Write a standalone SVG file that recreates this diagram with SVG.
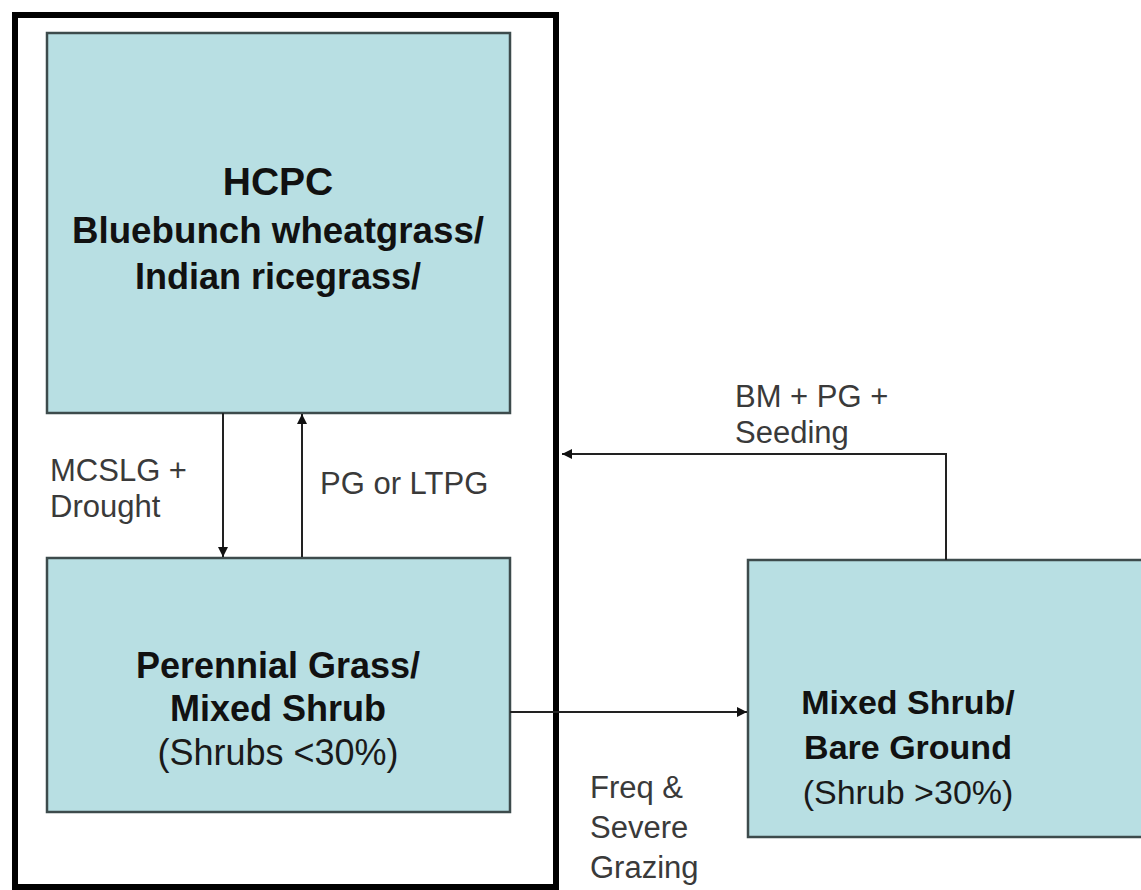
<svg xmlns="http://www.w3.org/2000/svg" width="1141" height="890" viewBox="0 0 1141 890">
<defs>
<style>
.box{fill:#b8dfe3;stroke:#3d4b4c;stroke-width:2.5}
.title{font-family:"Liberation Sans",Arial,sans-serif;font-weight:bold;font-size:36px;fill:#111;text-anchor:middle}
.sub{font-family:"Liberation Sans",Arial,sans-serif;font-size:36px;fill:#1a1a1a;text-anchor:middle}
.lbl{font-family:"Liberation Sans",Arial,sans-serif;font-size:31px;fill:#3a3a3a}
.ln{fill:none;stroke:#222;stroke-width:2}
</style>
<marker id="ah" viewBox="0 0 10 10" refX="10" refY="5" markerWidth="10" markerHeight="10" markerUnits="userSpaceOnUse" orient="auto">
<path d="M0,0 L10,5 L0,10 z" fill="#111"/>
</marker>
</defs>
<rect width="1141" height="890" fill="#fff"/>
<rect id="frame" x="15" y="15" width="541" height="872" fill="none" stroke="#000" stroke-width="6"/>
<g id="hcpc">
<rect class="box" x="47" y="33" width="463" height="380"/>
<text class="title" x="278" y="195" style="font-size:39px">HCPC</text>
<text class="title" x="278" y="243" textLength="412" lengthAdjust="spacingAndGlyphs">Bluebunch wheatgrass/</text>
<text class="title" x="278" y="289">Indian ricegrass/</text>
</g>
<g id="perennial">
<rect class="box" x="47" y="558" width="463" height="254"/>
<text class="title" x="278" y="678">Perennial Grass/</text>
<text class="title" x="278" y="721">Mixed Shrub</text>
<text class="sub" x="278" y="765">(Shrubs &lt;30%)</text>
</g>
<g id="mixed">
<rect class="box" x="748" y="560" width="400" height="277"/>
<text class="title" x="908" y="714" style="font-size:34px">Mixed Shrub/</text>
<text class="title" x="908" y="759" style="font-size:34px">Bare Ground</text>
<text class="sub" x="908" y="804" style="font-size:34px">(Shrub &gt;30%)</text>
</g>
<g id="connectors">
<line class="ln" x1="223" y1="413" x2="223" y2="557" marker-end="url(#ah)"/>
<line class="ln" x1="302" y1="557" x2="302" y2="414" marker-end="url(#ah)"/>
<line class="ln" x1="510" y1="712" x2="747" y2="712" marker-end="url(#ah)"/>
<polyline class="ln" points="946,560 946,454 562,454" marker-end="url(#ah)"/>
</g>
<g id="labels">
<text class="lbl" x="50" y="481">MCSLG +</text>
<text class="lbl" x="50" y="517">Drought</text>
<text class="lbl" x="320" y="494">PG or LTPG</text>
<text class="lbl" x="735" y="407">BM + PG +</text>
<text class="lbl" x="735" y="443">Seeding</text>
<text class="lbl" x="590" y="798">Freq &amp;</text>
<text class="lbl" x="590" y="838">Severe</text>
<text class="lbl" x="590" y="878">Grazing</text>
</g>
</svg>
